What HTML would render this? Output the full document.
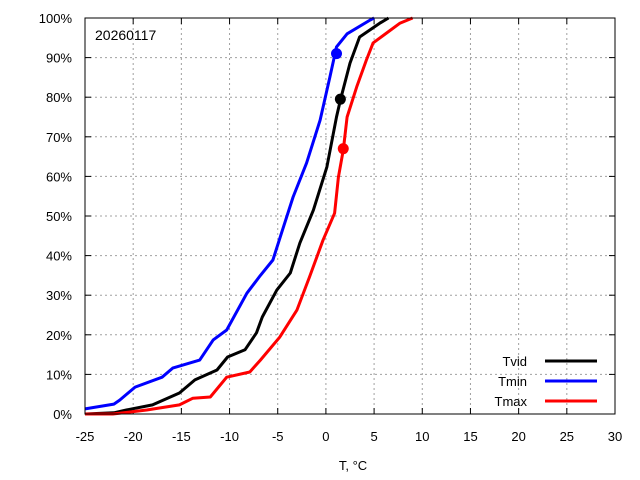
<!DOCTYPE html>
<html><head><meta charset="utf-8"><style>
body{margin:0;background:#fff;}
svg{display:block;font-family:"Liberation Sans",sans-serif;font-size:13px;}
</style></head><body>
<svg id="chart" width="640" height="480" xmlns="http://www.w3.org/2000/svg">
<rect width="640" height="480" fill="#fff"/>
<g id="grid"></g><g id="ticks"></g><g id="series"></g>
<rect x="85" y="18" width="530" height="396" fill="none" stroke="#000" stroke-width="1"/>
<text x="95" y="40" font-size="14">20260117</text>
<text x="353" y="470" text-anchor="middle">T, °C</text>
<g id="legend"></g>
</svg>
<script>
const xTicks=[-25,-20,-15,-10,-5,0,5,10,15,20,25,30];
const yTicks=[0,10,20,30,40,50,60,70,80,90,100];
const seriesNames=["Tvid","Tmin","Tmax"];
const seriesColors=["#000","#0000ff","#ff0000"];
const tvidX=[-25,-22,-20.7,-18,-15.2,-13.6,-11.3,-10.2,-8.4,-7.2,-6.6,-5.1,-3.7,-2.7,-1.3,0.1,1.1,1.5,2.5,3.5,5.6,6.5];
const tvidY=[0,0.3,1,2.3,5.3,8.6,11.1,14.4,16.2,20.5,24.5,31.3,35.6,43.2,51.5,62.4,75,79.3,88.6,95.2,98.7,100];
const tminX=[-25,-22,-21.4,-19.8,-17,-15.9,-13.1,-11.7,-10.3,-8.2,-6.8,-5.5,-4.5,-3.4,-2,-0.6,0.4,1.1,2.2,4.6,5];
const tminY=[1.3,2.5,3.5,6.8,9.3,11.6,13.6,18.7,21.2,30.5,35,38.9,46.5,54.8,63.4,74.2,85,92.7,96,99.5,100];
const tmaxX=[-25,-22.1,-18.6,-15.2,-13.8,-12,-10.3,-7.9,-6.8,-4.8,-3,-1.7,-0.3,0.9,1.3,1.8,2.2,3.2,4.2,4.9,6.3,7.7,9];
const tmaxY=[0,0,1,2.3,4,4.3,9.3,10.6,13.6,19.4,26.3,34.6,43.9,50.7,59.8,66.7,75,82.6,89.4,93.7,96.2,98.7,100];
const markerX=[1.5,1.1,1.8];
const markerY=[79.5,91,67];
const NS="http://www.w3.org/2000/svg";
const X0=85,X1=615,Y0=414,Y1=18;
const sx=v=>X0+(v+25)/55*(X1-X0);
const sy=v=>Y0-v/100*(Y0-Y1);
function mk(t,a,p){const e=document.createElementNS(NS,t);for(const k in a)e.setAttribute(k,a[k]);p.appendChild(e);return e;}
const grid=document.getElementById('grid'),ticks=document.getElementById('ticks');
xTicks.forEach(v=>{const x=sx(v);
 if(v>-25&&v<30){const g=mk('line',{x1:x,x2:x,y1:Y1,y2:Y0,stroke:'#a0a0a0','stroke-dasharray':'2,3'},grid);
 
 }
 const t=mk('text',{x:x,y:441,'text-anchor':'middle'},ticks);t.textContent=v;
 
 
 mk('line',{x1:x,x2:x,y1:Y0,y2:Y0-6,stroke:'#000'},ticks);mk('line',{x1:x,x2:x,y1:Y1,y2:Y1+6,stroke:'#000'},ticks);});
yTicks.forEach(v=>{const y=sy(v);
 if(v>0&&v<100){const g=mk('line',{x1:X0,x2:X1,y1:y,y2:y,stroke:'#a0a0a0','stroke-dasharray':'2,3'},grid);
 
 }
 const t=mk('text',{x:72,y:y+5,'text-anchor':'end'},ticks);t.textContent=v+'%';
 
 
 mk('line',{x1:X0,x2:X0+6,y1:y,y2:y,stroke:'#000'},ticks);mk('line',{x1:X1,x2:X1-6,y1:y,y2:y,stroke:'#000'},ticks);});
const ser=document.getElementById('series');
const data=[[tvidX,tvidY],[tminX,tminY],[tmaxX,tmaxY]];
data.forEach((d,i)=>{const pts=d[0].map((x,j)=>sx(x).toFixed(1)+','+sy(d[1][j]).toFixed(1)).join(' ');
 const p=mk('polyline',{points:pts,fill:'none',stroke:seriesColors[i],'stroke-width':3,'stroke-linejoin':'round'},ser);
 
 
 const c=mk('circle',{cx:sx(markerX[i]),cy:sy(markerY[i]),r:5.5,fill:seriesColors[i]},ser);
 
 });
const lg=document.getElementById('legend');
seriesNames.forEach((n,i)=>{const y=361+i*20;
 const t=mk('text',{x:527,y:y+5,'text-anchor':'end'},lg);t.textContent=n;
 
 
 const l=mk('line',{x1:545,x2:597,y1:y,y2:y,stroke:seriesColors[i],'stroke-width':3},lg);
 
 });
</script>
</body></html>
